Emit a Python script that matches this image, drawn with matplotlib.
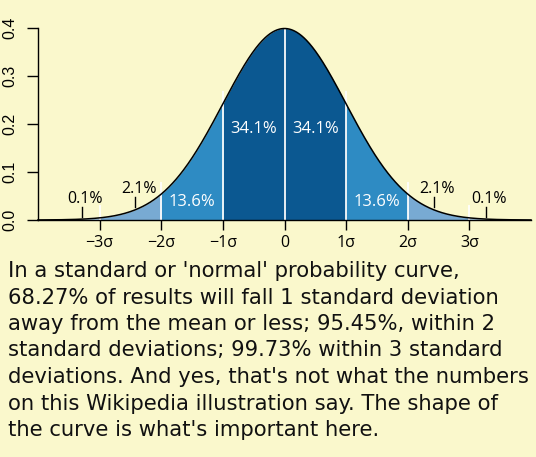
import numpy as np
import matplotlib
matplotlib.use("Agg")
import matplotlib.pyplot as plt

# ---- data ----
boundaries = [-4, -3, -2, -1, 0, 1, 2, 3, 4]
band_colors = ["#a9cbe6", "#78aad3", "#2e8bc3", "#0b5891",
               "#0b5891", "#2e8bc3", "#78aad3", "#a9cbe6"]
x_ticks = [-3, -2, -1, 0, 1, 2, 3]
x_tick_labels = ["\u22123\u03c3", "\u22122\u03c3", "\u22121\u03c3", "0", "1\u03c3", "2\u03c3", "3\u03c3"]
y_ticks = [0.0, 0.1, 0.2, 0.3, 0.4]
y_tick_labels = ["0.0", "0.1", "0.2", "0.3", "0.4"]

inner_labels = ["34.1%", "34.1%", "13.6%", "13.6%"]
inner_x = [-0.5, 0.5, -1.5, 1.5]
inner_y = [0.189, 0.189, 0.038, 0.038]

outer_labels = ["2.1%", "0.1%", "2.1%", "0.1%"]
outer_x = [-2.36, -3.24, 2.47, 3.32]
outer_y = [0.056, 0.035, 0.056, 0.035]
pointer_x = [-2.43, -3.28, 2.42, 3.27]
pointer_y0 = [0.027, 0.006, 0.027, 0.006]
pointer_y1 = [0.048, 0.027, 0.048, 0.027]

caption_lines = [
    "In a standard or 'normal' probability curve,",
    "68.27% of results will fall 1 standard deviation",
    "away from the mean or less; 95.45%, within 2",
    "standard deviations; 99.73% within 3 standard",
    "deviations. And yes, that's not what the numbers",
    "on this Wikipedia illustration say. The shape of",
    "the curve is what's important here.",
]

bg = "#faf8cc"

def pdf(v):
    return np.exp(-v ** 2 / 2) / np.sqrt(2 * np.pi)

fig = plt.figure(figsize=(5.36, 4.57), dpi=100, facecolor=bg)
ax = fig.add_axes([38 / 536, 1 - 220 / 457, 493 / 536, 192 / 457])
ax.set_facecolor(bg)

for i in range(len(boundaries) - 1):
    xs = np.linspace(boundaries[i], boundaries[i + 1], 100)
    ax.fill_between(xs, 0, pdf(xs), color=band_colors[i], linewidth=0)

xx = np.linspace(-4, 4, 800)
ax.plot(xx, pdf(xx), color="black", linewidth=1.1, clip_on=False, zorder=4)

for b in x_ticks:
    top = min(pdf(b) + 0.024, pdf(0))
    ax.plot([b, b], [0, top], color="white", linewidth=1.4, zorder=3, alpha=0.9)

ax.plot([-4, 4], [0, 0], color="black", linewidth=1.0, clip_on=False, zorder=5)

for t, xv, yv in zip(inner_labels, inner_x, inner_y):
    ax.text(xv, yv, t, color="white", ha="center", va="center",
            fontsize=12, family="Open Sans", zorder=6)
for t, xv, yv in zip(outer_labels, outer_x, outer_y):
    ax.text(xv, yv, t, color="black", ha="center", va="baseline",
            fontsize=11.5, family="Open Sans", zorder=6)
for xv, y0, y1 in zip(pointer_x, pointer_y0, pointer_y1):
    ax.plot([xv, xv], [y0, y1], color="black", linewidth=1.0, zorder=6)

ax.set_xlim(-4, 4)
ax.set_ylim(0, 0.4)
for s in ["top", "right", "bottom"]:
    ax.spines[s].set_visible(False)
ax.spines["left"].set_linewidth(1.0)
ax.set_xticks(x_ticks)
ax.set_xticklabels(x_tick_labels, family="Open Sans", fontsize=11.5)
ax.set_yticks(y_ticks)
ax.set_yticklabels(y_tick_labels, family="Liberation Sans", fontsize=11.5,
                   rotation=90, va="center")
ax.tick_params(axis="x", length=7, width=1.0, color="black", pad=4)
ax.tick_params(axis="y", length=8, width=1.0, color="black", pad=7)

for i, line in enumerate(caption_lines):
    fig.text(8 / 536, 1 - (261 + i * 26.5) / 457, line, ha="left", va="top",
             fontsize=15.2, family="DejaVu Sans", color="#111111")

fig.savefig("out.png", dpi=100, facecolor=bg)
